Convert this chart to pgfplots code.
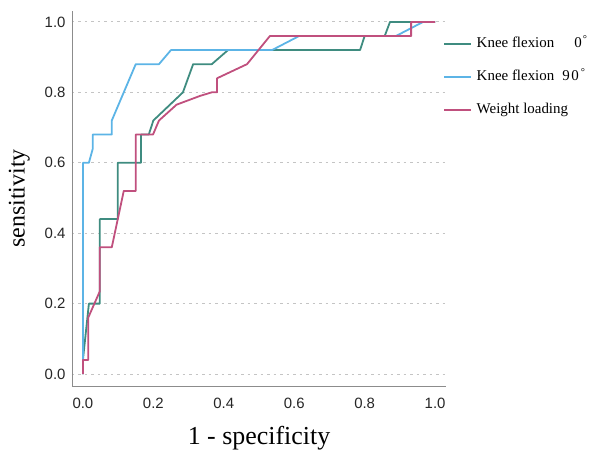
\documentclass[border=0pt]{standalone}
\usepackage{fontspec}
\setmainfont{Liberation Serif}
\newfontfamily\arial{Liberation Sans}
\usepackage{pgfplots}
\pgfplotsset{compat=1.18}
\definecolor{cteal}{HTML}{3F8C80}
\definecolor{cblue}{HTML}{5CB4E6}
\definecolor{cpink}{HTML}{C0507E}
\definecolor{cgrid}{HTML}{C4C4C4}
\definecolor{caxis}{HTML}{8C8C8C}
\begin{document}
\begin{tikzpicture}
\path[use as bounding box] (-72bp,-67bp) rectangle (533bp,386bp);
\begin{axis}[
  at={(0,0)}, anchor=south west,
  scale only axis, width=374bp, height=375bp,
  xmin=-0.031, xmax=1.031, ymin=-0.034, ymax=1.031,
  axis x line*=bottom, axis y line*=left,
  axis line style={caxis, line width=1pt, -},
  xtick={0,0.2,...,1.0}, ytick={0,0.2,...,1.0},
  major tick length=0pt,
  xticklabel style={/pgf/number format/fixed, /pgf/number format/fixed zerofill, /pgf/number format/precision=1, font=\arial\fontsize{15}{17}\selectfont, text=black!85, yshift=-9bp},
  yticklabel style={/pgf/number format/fixed, /pgf/number format/fixed zerofill, /pgf/number format/precision=1, font=\arial\fontsize{15}{17}\selectfont, text=black!85, xshift=-3bp},
  /pgf/number format/assume math mode=true,
  ymajorgrids, grid style={cgrid, line width=1pt, dash pattern=on 2.5bp off 4bp},
  xlabel={1 - specificity}, ylabel={sensitivity},
  xlabel style={font=\fontsize{26}{28}\selectfont, at={(ticklabel cs:0.5)}, yshift=-10bp},
  ylabel style={font=\fontsize{24}{26}\selectfont, yshift=8bp},
  legend style={at={(0.984,0.94)}, anchor=north west, draw=none, fill=none,
    font=\fontsize{15}{17}\selectfont, row sep=17bp,
    nodes={inner sep=1bp, text height=11bp, text depth=3bp}},
  legend cell align=left,
  legend image code/.code={\draw[#1, line width=1.8bp] (0bp,0bp) -- (27bp,0bp);},
  every axis plot/.append style={line width=1.8bp, line join=round},
  clip=false,
]
\addplot[cteal] coordinates {(0,0)(0,0.04)(0.017,0.20)(0.048,0.20)(0.048,0.44)(0.099,0.44)(0.099,0.60)(0.165,0.60)(0.165,0.68)(0.187,0.68)(0.20,0.72)(0.284,0.80)(0.313,0.88)(0.366,0.88)(0.412,0.92)(0.787,0.92)(0.80,0.96)(0.857,0.96)(0.872,1.0)(1,1)};
\addlegendentry{\ Knee flexion\hspace{20bp}0\hspace{1bp}\textsuperscript{°}}
\addplot[cblue] coordinates {(0,0)(0,0.60)(0.017,0.60)(0.028,0.64)(0.028,0.68)(0.082,0.68)(0.082,0.72)(0.150,0.88)(0.216,0.88)(0.250,0.92)(0.537,0.92)(0.614,0.96)(0.889,0.96)(0.966,1.0)(1,1)};
\addlegendentry{\ Knee flexion\hspace{8bp}9\hspace{1.5bp}0\hspace{2bp}\textsuperscript{°}}
\addplot[cpink] coordinates {(0,0)(0,0.04)(0.015,0.04)(0.015,0.16)(0.048,0.235)(0.048,0.36)(0.082,0.36)(0.116,0.52)(0.150,0.52)(0.150,0.68)(0.199,0.68)(0.216,0.72)(0.266,0.765)(0.333,0.79)(0.366,0.80)(0.381,0.80)(0.381,0.84)(0.466,0.88)(0.531,0.96)(0.932,0.96)(0.932,1.0)(1,1)};
\addlegendentry{\ Weight loading}
\end{axis}
\end{tikzpicture}
\end{document}
